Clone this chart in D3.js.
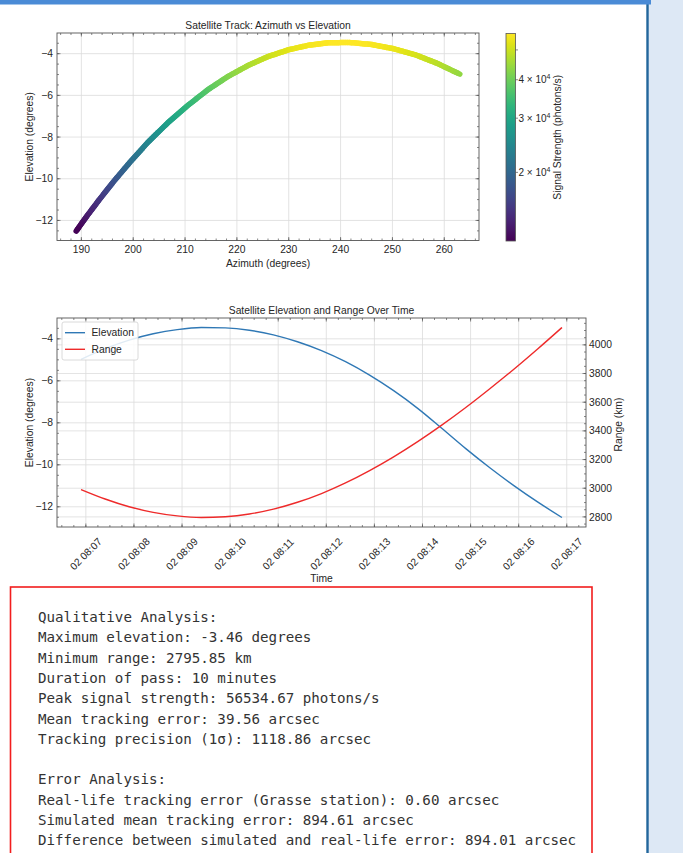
<!DOCTYPE html>
<html><head><meta charset="utf-8">
<script src="https://cdn.jsdelivr.net/npm/d3@7"></script>
<style>
body{margin:0;background:#fff;width:683px;height:853px;overflow:hidden;}
svg text{font-family:"Liberation Sans",Arial,sans-serif;fill:#262626;}
</style></head><body>
<svg id="c" width="683" height="853"></svg>
<script>
// ---------- data ----------
const passDate = "2024-06-02";
const times = ["08:06:54","08:07:24","08:07:54","08:08:24","08:08:54","08:09:24","08:09:54","08:10:24","08:10:54","08:11:24","08:11:54","08:12:24","08:12:54","08:13:24","08:13:54","08:14:24","08:14:54","08:15:24","08:15:54","08:16:24","08:16:54"];
const azimuth = [263.0,258.7,254.5,250.2,246.0,241.7,237.6,233.9,230.0,226.0,222.2,218.3,214.4,210.6,206.7,202.8,199.3,196.2,193.5,191.1,189.0];
const elevation = [-4.98,-4.47,-4.06,-3.76,-3.56,-3.46,-3.48,-3.59,-3.81,-4.14,-4.56,-5.09,-5.73,-6.47,-7.31,-8.26,-9.23,-10.14,-10.99,-11.78,-12.51];
const rangeKm = [2991,2925,2871,2832,2807,2795.85,2801,2820,2854,2902,2963,3037,3123,3219,3325,3440,3563,3694,3830,3973,4121];
const signal = [43560,47546,51006,53697,55574,56534.67,56341,55288,53242,50305,46822,42740,38291,33729,29206,24813,21009,17967,15536,13568,11968];
const azTicks = [190,200,210,220,230,240,250,260];
const elTicks = [-12,-10,-8,-6,-4];
const rangeTicks = [2800,3000,3200,3400,3600,3800,4000];
const cbTicks = [20000,30000,40000];
const cbMinorTicks = [50000];
const statsLines = [
 "Qualitative Analysis:",
 "Maximum elevation: -3.46 degrees",
 "Minimum range: 2795.85 km",
 "Duration of pass: 10 minutes",
 "Peak signal strength: 56534.67 photons/s",
 "Mean tracking error: 39.56 arcsec",
 "Tracking precision (1σ): 1118.86 arcsec",
 "",
 "Error Analysis:",
 "Real-life tracking error (Grasse station): 0.60 arcsec",
 "Simulated mean tracking error: 894.61 arcsec",
 "Difference between simulated and real-life error: 894.01 arcsec"
];

// ---------- helpers ----------
const svg = d3.select("#c");
const FS = 10.3;
const pad = ([a,b]) => [a-(b-a)*0.05, b+(b-a)*0.05];
const dates = times.map(t => new Date(passDate+"T"+t+"Z"));

svg.append("rect").attr("width",683).attr("height",853).attr("fill","#fff");
svg.append("rect").attr("x",648).attr("y",0).attr("width",35).attr("height",853).attr("fill","#dde8f5");
svg.append("rect").attr("x",646.3).attr("y",4).attr("width",2.4).attr("height",849).attr("fill","#22669c");
svg.append("rect").attr("x",0).attr("y",0).attr("width",651).attr("height",4.5).attr("fill","#4a8bd6");

function gridX(g,s,vals,b){vals.forEach(v=>g.append("line").attr("x1",s(v)).attr("x2",s(v)).attr("y1",b.t).attr("y2",b.b).attr("stroke","#dcdcdc").attr("stroke-width",0.8));}
function gridY(g,s,vals,b){vals.forEach(v=>g.append("line").attr("y1",s(v)).attr("y2",s(v)).attr("x1",b.l).attr("x2",b.r).attr("stroke","#dcdcdc").attr("stroke-width",0.8));}
function ticksX(g,s,vals,b,len){vals.forEach(v=>{const x=s(v);if(x<b.l-0.1||x>b.r+0.1)return;
  g.append("line").attr("x1",x).attr("x2",x).attr("y1",b.b).attr("y2",b.b-len).attr("stroke","#555").attr("stroke-width",0.7);
  g.append("line").attr("x1",x).attr("x2",x).attr("y1",b.t).attr("y2",b.t+len).attr("stroke","#555").attr("stroke-width",0.7);});}
function ticksY(g,s,vals,b,len,sides){vals.forEach(v=>{const y=s(v);if(y<b.t-0.1||y>b.b+0.1)return;
  if(sides.includes("l"))g.append("line").attr("x1",b.l).attr("x2",b.l+len).attr("y1",y).attr("y2",y).attr("stroke","#555").attr("stroke-width",0.7);
  if(sides.includes("r"))g.append("line").attr("x1",b.r).attr("x2",b.r-len).attr("y1",y).attr("y2",y).attr("stroke","#555").attr("stroke-width",0.7);});}
function frame(g,b){g.append("rect").attr("x",b.l).attr("y",b.t).attr("width",b.r-b.l).attr("height",b.b-b.t).attr("fill","none").attr("stroke","#555").attr("stroke-width",0.9);}
function text(g,x,y,str,opt={}){const t=g.append("text").attr("x",x).attr("y",y).attr("font-size",opt.fs||FS).attr("text-anchor",opt.anchor||"middle").text(str);
  if(opt.rot)t.attr("transform",`rotate(${opt.rot},${x},${y})`);if(opt.db)t.attr("dominant-baseline",opt.db);return t;}

// ---------- top chart ----------
const T = {l:57,r:479,t:33,b:240.5};
const gT = svg.append("g");
const xAz = d3.scaleLinear().domain(pad(d3.extent(azimuth))).range([T.l,T.r]);
const yElT = d3.scaleLinear().domain(pad(d3.extent(elevation))).range([T.b,T.t]);
const color = d3.scaleSequentialLog(d3.interpolateViridis).domain(d3.extent(signal));

gridX(gT,xAz,azTicks,T); gridY(gT,yElT,elTicks,T);
ticksX(gT,xAz,d3.range(186,268,2),T,2); ticksX(gT,xAz,azTicks,T,3.5);
ticksY(gT,yElT,d3.range(-13,-2.9,0.5),T,2,"lr"); ticksY(gT,yElT,elTicks,T,3.5,"lr");

// track: coloured thick band
const S = 10;
for(let i=0;i<azimuth.length-1;i++){
  for(let k=0;k<S;k++){
    const a=k/S, b=(k+1)/S, m=(a+b)/2;
    const L=(u,arr)=>arr[i]+(arr[i+1]-arr[i])*u;
    const sig=Math.exp(Math.log(signal[i])+(Math.log(signal[i+1])-Math.log(signal[i]))*m);
    gT.append("line").attr("x1",xAz(L(a,azimuth))).attr("y1",yElT(L(a,elevation)))
      .attr("x2",xAz(L(b,azimuth))).attr("y2",yElT(L(b,elevation)))
      .attr("stroke",color(sig)).attr("stroke-width",5.5).attr("stroke-linecap","round");
  }
}
frame(gT,T);
azTicks.forEach(v=>text(gT,xAz(v),252.5,v));
elTicks.forEach(v=>text(gT,T.l-4,yElT(v)+3.6,d3.format("d")(v),{anchor:"end"}));
text(gT,(T.l+T.r)/2,28.5,"Satellite Track: Azimuth vs Elevation");
text(gT,(T.l+T.r)/2,266.5,"Azimuth (degrees)");
text(gT,32.5,(T.t+T.b)/2,"Elevation (degrees)",{rot:-90});

// colorbar
const CB = {l:506,r:515.5,t:33.5,b:241};
const defs = svg.append("defs");
const grad = defs.append("linearGradient").attr("id","vir").attr("x1",0).attr("y1",1).attr("x2",0).attr("y2",0);
d3.range(0,1.0001,0.05).forEach(t=>grad.append("stop").attr("offset",t).attr("stop-color",d3.interpolateViridis(t)));
svg.append("rect").attr("x",CB.l).attr("y",CB.t).attr("width",CB.r-CB.l).attr("height",CB.b-CB.t).attr("fill","url(#vir)").attr("stroke","#555").attr("stroke-width",0.8);
const cbScale = d3.scaleLog().domain(d3.extent(signal)).range([CB.b,CB.t]);
cbTicks.concat(cbMinorTicks).forEach(v=>svg.append("line").attr("x1",CB.r).attr("x2",CB.r+2.5).attr("y1",cbScale(v)).attr("y2",cbScale(v)).attr("stroke","#555").attr("stroke-width",0.7));
cbTicks.forEach(v=>{
  const e=Math.floor(Math.log10(v)), m=Math.round(v/Math.pow(10,e));
  const t=svg.append("text").attr("x",CB.r+3).attr("y",cbScale(v)+3.6).attr("font-size",FS-0.3).attr("text-anchor","start");
  t.append("tspan").text(m+" × 10");
  t.append("tspan").attr("dy",-4).attr("font-size",7).text(e);
});
text(svg,561,(CB.t+CB.b)/2,"Signal Strength (photons/s)",{rot:-90});

// ---------- bottom chart ----------
const B = {l:57,r:586,t:318,b:527};
const gB = svg.append("g");
const tExt = d3.extent(dates).map(d=>+d);
const xT = d3.scaleUtc().domain(pad(tExt).map(v=>new Date(v))).range([B.l,B.r]);
const yElB = d3.scaleLinear().domain(pad(d3.extent(elevation))).range([B.b,B.t]);
const yR = d3.scaleLinear().domain(pad(d3.extent(rangeKm))).range([B.b,B.t]);
const tMajor = xT.ticks(d3.utcMinute.every(1));
const tMinor = xT.ticks(d3.utcSecond.every(15));

gridX(gB,xT,tMajor,B); gridY(gB,yElB,elTicks,B); gridY(gB,yR,rangeTicks,B);
ticksX(gB,xT,tMinor,B,2); ticksX(gB,xT,tMajor,B,3.5);
ticksY(gB,yElB,d3.range(-13,-2.9,0.5),B,2,"l"); ticksY(gB,yElB,elTicks,B,3.5,"l");
ticksY(gB,yR,d3.range(2750,4200,50),B,2,"r"); ticksY(gB,yR,rangeTicks,B,3.5,"r");

const lineEl = d3.line().x((d,i)=>xT(dates[i])).y(d=>yElB(d)).curve(d3.curveMonotoneX);
const lineR = d3.line().x((d,i)=>xT(dates[i])).y(d=>yR(d)).curve(d3.curveMonotoneX);
gB.append("path").attr("d",lineEl(elevation)).attr("fill","none").attr("stroke","#2f78b5").attr("stroke-width",1.4);
gB.append("path").attr("d",lineR(rangeKm)).attr("fill","none").attr("stroke","#ee2a2a").attr("stroke-width",1.4);
frame(gB,B);

const fmt = d3.utcFormat("%d %H:%M");
tMajor.forEach(d=>{const x=xT(d),y=554;
  gB.append("text").attr("x",x).attr("y",y).attr("font-size",FS).attr("text-anchor","middle").attr("dominant-baseline","central")
   .attr("transform",`rotate(-45,${x},${y})`).text(fmt(d));});
elTicks.forEach(v=>text(gB,B.l-4,yElB(v)+3.6,d3.format("d")(v),{anchor:"end"}));
rangeTicks.forEach(v=>text(gB,B.r+3,yR(v)+3.6,v,{anchor:"start"}));
text(gB,(B.l+B.r)/2,314,"Satellite Elevation and Range Over Time");
text(gB,(B.l+B.r)/2,582,"Time");
text(gB,32.5,(B.t+B.b)/2,"Elevation (degrees)",{rot:-90});
text(gB,622,(B.t+B.b)/2+2,"Range (km)",{rot:-90});

// legend
const lg = gB.append("g");
lg.append("rect").attr("x",62).attr("y",322).attr("width",76).attr("height",38).attr("rx",2).attr("fill","#fff").attr("fill-opacity",0.85).attr("stroke","#d0d0d0").attr("stroke-width",0.8);
[["Elevation","#2f78b5",332.7],["Range","#ee2a2a",349.3]].forEach(([n,c,y])=>{
  lg.append("line").attr("x1",65).attr("x2",85).attr("y1",y).attr("y2",y).attr("stroke",c).attr("stroke-width",1.4);
  text(lg,91.5,y+3.6,n,{anchor:"start"});
});

// ---------- stats box ----------
svg.append("rect").attr("x",10.5).attr("y",587).attr("width",581.5).attr("height",300).attr("fill","none").attr("stroke","#f21d1d").attr("stroke-width",1.6);
const st = svg.append("g");
statsLines.forEach((s,i)=>{
  st.append("text").attr("x",38).attr("y",622+i*20.3).attr("font-size",14.2).attr("text-anchor","start")
    .style("font-family","'DejaVu Sans Mono','Liberation Mono',monospace").style("fill","#333").text(s);
});
</script>
</body></html>
